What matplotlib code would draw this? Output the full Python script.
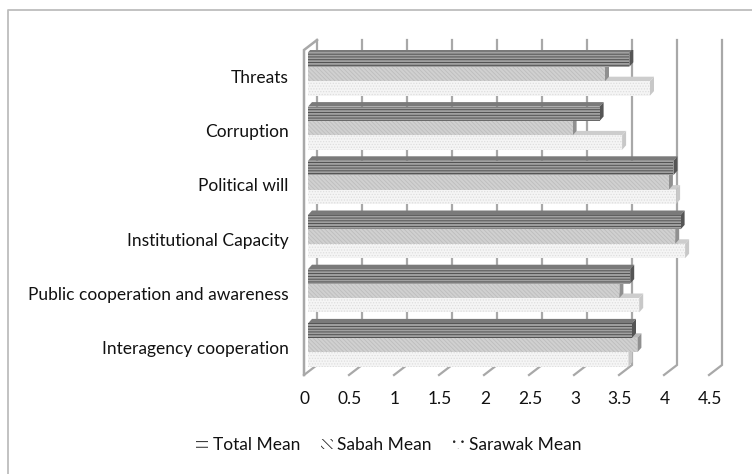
import matplotlib
matplotlib.use("Agg")
import matplotlib.pyplot as plt
from matplotlib.patches import Polygon, Rectangle, Patch
from matplotlib.lines import Line2D
from matplotlib.transforms import ScaledTranslation

categories = ["Interagency cooperation", "Public cooperation and awareness",
              "Institutional Capacity", "Political will", "Corruption", "Threats"]
total_mean = [3.60, 3.58, 4.14, 4.06, 3.24, 3.57]
sabah_mean = [3.66, 3.46, 4.08, 4.01, 2.94, 3.30]
sarawak_mean = [3.56, 3.68, 4.19, 4.09, 3.49, 3.80]
ticks = [0, 0.5, 1, 1.5, 2, 2.5, 3, 3.5, 4, 4.5]
tick_labels = ["0", "0.5", "1", "1.5", "2", "2.5", "3", "3.5", "4", "4.5"]

W, H = 752, 474
FS = 12.5
plt.rcParams["font.family"] = ["Lato", "DejaVu Sans"]
plt.rcParams["hatch.linewidth"] = 0.6
fig = plt.figure(figsize=(W / 100, H / 100), dpi=100)

# frame of the chart area
fig.add_artist(Line2D([8 / W, 8 / W, 1], [0, 1 - 10 / H, 1 - 10 / H],
                      color="#bdbdbd", lw=1.3))

# plot area: value 0 at px 304, 4.5 at px 709, front floor px 375, top px 50
L, R, B, T = 304, 709, 375, 50
ax = fig.add_axes([L / W, 1 - B / H, (R - L) / W, (B - T) / H])
ax.set_xlim(0, 4.5)
step = 54.2
ax.set_ylim((345 - B) / step, (345 - T) / step)
for s in ax.spines.values():
    s.set_visible(False)
ax.patch.set_visible(False)
px = 4.5 / (R - L)      # value per pixel
py = 1 / step           # category per pixel

# walls and grid
ymin, ymax = ax.get_ylim()
gc = "#a8a8a8"
for t in ticks:
    ax.plot([t, t + 13 * px, t + 13 * px], [ymin, ymin + 10 * py, ymax + 10 * py],
            color=gc, lw=1.6, solid_joinstyle="miter", clip_on=False, zorder=1)
ax.plot([0, 0, 13 * px], [ymin, ymax, ymax + 10 * py], color=gc, lw=1.8,
        solid_joinstyle="miter", clip_on=False, zorder=1.5)

bar_h = 14.4 * py
x0 = 4 * px
dx, dy = 4 * px, 4.5 * py
styles = [
    (sarawak_mean, "#f5f5f5", "#dedede", "......", "#cdcdcd", "#c8c8c8", -1),
    (sabah_mean, "#d0d0d0", "#bdbdbd", "\\\\\\\\\\\\\\\\", "#b8b8b8", "#909090", 0),
    (total_mean, "#a0a0a0", "#454545", "------", "#7a7a7a", "#555555", 1),
]
z = 2
for i in range(len(categories)):
    for vals, fc, hc, hatch, top, side, pos in styles:
        yb = i + (pos - 0.5) * bar_h
        v = vals[i]
        ax.add_patch(Polygon([(x0, yb + bar_h), (x0 + dx, yb + bar_h + dy),
                              (x0 + v + dx, yb + bar_h + dy), (x0 + v, yb + bar_h)],
                             fc=top, ec="none", zorder=z))
        ax.add_patch(Polygon([(x0 + v, yb), (x0 + v + dx, yb + dy),
                              (x0 + v + dx, yb + bar_h + dy), (x0 + v, yb + bar_h)],
                             fc=side, ec="none", zorder=z))
        ax.add_patch(Rectangle((x0, yb), v, bar_h, fc=fc, ec=hc, hatch=hatch, lw=0, zorder=z + 0.1))
        z += 0.2
    z += 1

ax.set_xticks(ticks, tick_labels, fontsize=FS, color="#111111")
ax.set_yticks(range(len(categories)), categories, fontsize=FS, color="#111111")
ax.tick_params(length=0)
ax.tick_params(axis="x", pad=11.5)
ax.tick_params(axis="y", pad=11)
for lab in ax.get_yticklabels():
    lab.set_transform(lab.get_transform() + ScaledTranslation(0, -2.5 / 100, fig.dpi_scale_trans))
for lab in ax.get_xticklabels():
    lab.set_transform(lab.get_transform() + ScaledTranslation(1 / 100, 0, fig.dpi_scale_trans))

handles = [Patch(fc="white", ec="black", hatch="---", lw=0),
           Patch(fc="white", ec="#222222", hatch="\\\\\\\\", lw=0),
           Patch(fc="white", ec="#222222", hatch="..", lw=0)]
fig.legend(handles, ["Total Mean", "Sabah Mean", "Sarawak Mean"], ncols=3, frameon=False,
           fontsize=FS, loc="center", bbox_to_anchor=(389 / W, 1 - 445 / H),
           handlelength=0.7, handleheight=0.55, handletextpad=0.25, columnspacing=1.2,
           labelcolor="#111111")
fig.savefig("out.png", dpi=100)
